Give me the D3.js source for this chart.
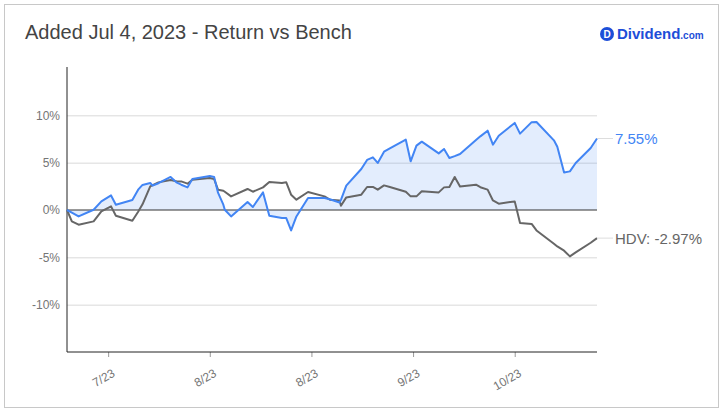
<!DOCTYPE html>
<html>
<head>
<meta charset="utf-8">
<script src="https://cdn.jsdelivr.net/npm/d3@7"></script>
<style>
  body { margin: 0; background: #fff; }
  text { font-family: Arial, "Liberation Sans", sans-serif; }
</style>
</head>
<body>
<div id="chart-area"></div>
<script>
// days since Jul 4, 2023 (sample points of the lines)
var days = [0, 1.0, 2.4, 5.5, 7.1, 9.1, 10.1, 13.5, 14.7, 15.6, 17.2, 17.7, 18.9, 20.0, 21.4, 22.6, 23.6, 24.9, 25.9, 29.5,
    30.4, 31.2, 32.3, 32.6, 33.9, 37.3, 38.4, 40.5, 41.8, 44.4, 45.3, 46.3, 47.4, 49.8, 53.2, 54.3, 56.3, 56.6, 57.7, 60.8,
    62.0, 63.2, 64.2, 65.5, 66.7, 70.0, 71.0, 72.2, 73.3, 76.8, 77.9, 79.0, 80.1, 81.2, 84.5, 85.4, 86.9, 88.0, 89.2, 92.5,
    93.6, 96.0, 97.0, 100.6, 101.3, 102.7, 103.9, 105.1, 108.2, 109.5];

// portfolio return, %
var returnValues = [0.00, -0.27, -0.68, 0.03, 0.91, 1.54, 0.56, 1.06, 2.15, 2.65, 2.85, 2.57, 2.83, 3.13, 3.49, 2.92, 2.67, 2.39, 3.28, 3.59,
    3.49, 1.83, 0.56, 0.03, -0.68, 0.85, 0.32, 1.86, -0.60, -0.85, -0.85, -2.16, -0.68, 1.27, 1.27, 1.14, 0.80, 1.07, 2.57, 4.33,
    5.29, 5.56, 4.97, 6.16, 6.51, 7.43, 5.14, 6.80, 7.22, 5.98, 6.45, 5.50, 5.69, 5.92, 7.39, 7.78, 8.38, 6.90, 7.85, 9.20,
    8.07, 9.28, 9.30, 7.36, 6.69, 3.97, 4.08, 4.97, 6.55, 7.55];

// HDV benchmark, %
var benchValues = [0.00, -1.20, -1.55, -1.20, -0.15, 0.38, -0.60, -1.13, -0.18, 0.60, 2.50, 2.62, 2.92, 3.04, 3.17, 3.04, 3.02, 2.78, 3.20, 3.38,
    3.26, 2.15, 2.04, 1.93, 1.44, 2.22, 1.93, 2.39, 2.96, 2.85, 2.92, 1.62, 1.09, 1.90, 1.44, 1.09, 1.01, 0.45, 1.33, 1.62,
    2.43, 2.43, 2.15, 2.60, 2.43, 1.93, 1.44, 1.44, 1.97, 1.86, 2.39, 2.43, 3.49, 2.49, 2.67, 2.41, 2.15, 1.01, 0.67, 0.91,
    -1.37, -1.47, -2.16, -3.56, -3.85, -4.30, -4.90, -4.48, -3.46, -2.97];

var xTickDays = [8.5, 29.5, 50.5, 71.5, 92.5];
var xTickLabels = ["7/23", "8/23", "8/23", "9/23", "10/23"];
var yTicks = [-10, -5, 0, 5, 10];

var returnLabel = "7.55%";
var benchLabel = "HDV: -2.97%";
var title = "Added Jul 4, 2023 - Return vs Bench";

ReturnChart = function(_parentElement){
    this.parentElement = _parentElement;
    this.data = days.map(function(d, i){
        return { x: d, r: returnValues[i], b: benchValues[i] };
    });
    this.initVis();
};

ReturnChart.prototype.initVis = function(){
    var vis = this;

    vis.margin = { left: 67, right: 129, top: 68, bottom: 60 };
    vis.width = 726 - vis.margin.left - vis.margin.right;
    vis.height = 412 - vis.margin.top - vis.margin.bottom;

    vis.svg = d3.select(vis.parentElement)
        .append("svg")
        .attr("width", 726)
        .attr("height", 412);

    // outer frame
    vis.svg.append("rect")
        .attr("x", 4.5).attr("y", 4.5)
        .attr("width", 714).attr("height", 403)
        .attr("fill", "#fff")
        .attr("stroke", "#c8c8c8");

    vis.svg.append("text")
        .attr("x", 25)
        .attr("y", 39)
        .attr("font-size", "20px")
        .attr("fill", "#444")
        .text(title);

    // logo
    var logo = vis.svg.append("g").attr("transform", "translate(607,34)");
    logo.append("circle").attr("r", 7).attr("fill", "#1d4ed8");
    logo.append("text")
        .attr("text-anchor", "middle").attr("dy", "0.36em")
        .attr("font-size", "10px").attr("font-weight", "bold")
        .attr("fill", "#fff").text("D");
    logo.append("text")
        .attr("x", 10).attr("dy", "0.36em")
        .attr("font-size", "15px").attr("font-weight", "bold")
        .attr("fill", "#1d4ed8")
        .text("Dividend")
        .append("tspan").attr("font-size", "10px").text(".com");

    vis.g = vis.svg.append("g")
        .attr("transform", "translate(" + vis.margin.left + ", " + vis.margin.top + ")");

    // Scales
    vis.x = d3.scaleLinear().domain([0, 109.5]).range([0, 530]);
    vis.y = d3.scaleLinear().domain([-15, 15]).range([vis.height, 0]);

    // gridlines
    vis.g.append("g")
        .attr("class", "grid")
        .call(d3.axisLeft(vis.y).tickValues(yTicks.filter(function(t){ return t !== 0; }))
            .tickSize(-530).tickFormat(""))
        .call(function(g){ g.select(".domain").remove(); })
        .selectAll("line").attr("stroke", "#d9d9d9");

    // Y axis labels
    vis.g.append("g")
        .attr("class", "y axis")
        .call(d3.axisLeft(vis.y).tickValues(yTicks).tickSize(0).tickPadding(7)
            .tickFormat(function(d){ return d + "%"; }))
        .call(function(g){ g.select(".domain").remove(); })
        .selectAll("text")
        .attr("font-size", "12px")
        .attr("font-family", "Arial, 'Liberation Sans', sans-serif")
        .attr("fill", "#757575");

    // area under return line
    vis.area = d3.area()
        .x(function(d){ return vis.x(d.x); })
        .y0(vis.y(0))
        .y1(function(d){ return vis.y(d.r); });
    vis.g.append("path")
        .attr("d", vis.area(vis.data))
        .attr("fill", "#4285f4")
        .attr("fill-opacity", 0.15);

    // zero line
    vis.g.append("line")
        .attr("x1", 0).attr("x2", 530)
        .attr("y1", vis.y(0)).attr("y2", vis.y(0))
        .attr("stroke", "#333");

    // X axis
    vis.xAxis = vis.g.append("g")
        .attr("class", "x axis")
        .attr("transform", "translate(0," + vis.height + ")")
        .call(d3.axisBottom(vis.x).tickValues(xTickDays).tickSize(5).tickPadding(10)
            .tickFormat(function(d, i){ return xTickLabels[i]; }));
    vis.xAxis.select(".domain").remove();
    vis.xAxis.selectAll("line").attr("stroke", "#999");
    vis.xAxis.selectAll("text")
        .attr("font-size", "12px")
        .attr("font-family", "Arial, 'Liberation Sans', sans-serif")
        .attr("fill", "#757575")
        .attr("text-anchor", "end")
        .attr("transform", "translate(5,20) rotate(-30)")
        .attr("dy", "0.35em")
        .attr("y", 0).attr("x", 0);

    // axis lines
    vis.g.append("line")
        .attr("x1", 0).attr("x2", 0)
        .attr("y1", -1).attr("y2", vis.height)
        .attr("stroke", "#222");
    vis.g.append("line")
        .attr("x1", 0).attr("x2", 530)
        .attr("y1", vis.height).attr("y2", vis.height)
        .attr("stroke", "#222");

    // lines
    vis.benchLine = d3.line()
        .x(function(d){ return vis.x(d.x); })
        .y(function(d){ return vis.y(d.b); });
    vis.returnLine = d3.line()
        .x(function(d){ return vis.x(d.x); })
        .y(function(d){ return vis.y(d.r); });

    vis.g.append("path")
        .attr("d", vis.benchLine(vis.data))
        .attr("fill", "none")
        .attr("stroke", "#666")
        .attr("stroke-width", 2)
        .attr("stroke-linejoin", "round");
    vis.g.append("path")
        .attr("d", vis.returnLine(vis.data))
        .attr("fill", "none")
        .attr("stroke", "#4285f4")
        .attr("stroke-width", 2)
        .attr("stroke-linejoin", "round");

    // end labels with leader lines
    var last = vis.data[vis.data.length - 1];
    var ends = [
        { v: last.r, label: returnLabel, color: "#4285f4" },
        { v: last.b, label: benchLabel, color: "#666" }
    ];
    ends.forEach(function(e){
        vis.g.append("line")
            .attr("x1", vis.x(last.x)).attr("x2", vis.x(last.x) + 16)
            .attr("y1", vis.y(e.v)).attr("y2", vis.y(e.v))
            .attr("stroke", "#ddd");
        vis.g.append("text")
            .attr("x", vis.x(last.x) + 18)
            .attr("y", vis.y(e.v))
            .attr("dy", "0.36em")
            .attr("font-size", "15px")
            .attr("fill", e.color)
            .text(e.label);
    });
};

new ReturnChart("#chart-area");
</script>
</body>
</html>
